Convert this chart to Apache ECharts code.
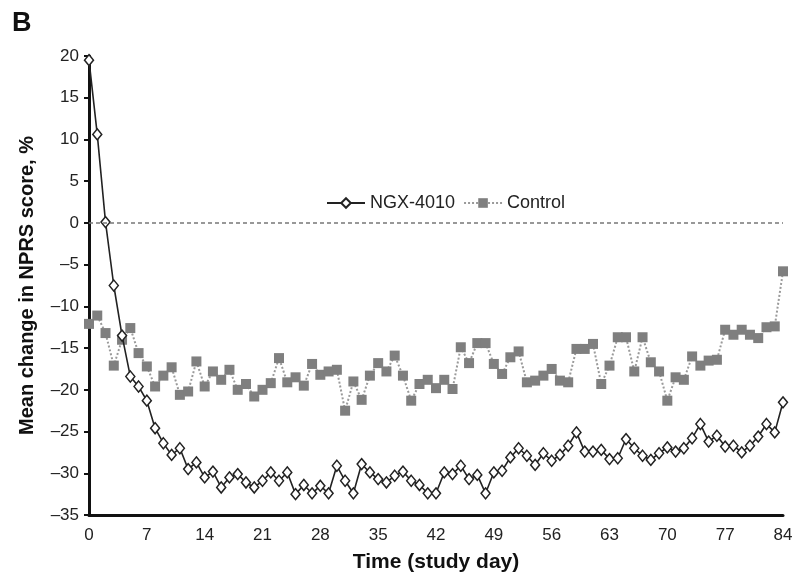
<!DOCTYPE html>
<html>
<head>
<meta charset="utf-8">
<script src="https://cdn.jsdelivr.net/npm/echarts@6/dist/echarts.min.js"></script>
<style>
  html, body { margin: 0; padding: 0; background: #fff; }
  #chart { width: 796px; height: 580px; }
</style>
</head>
<body>
<div id="chart"></div>
<script>
// study days 0..84
const days = Array.from({ length: 85 }, (_, i) => i);

// mean change in NPRS score, %
const ngxValues = [
  19.5, 10.6, 0.1, -7.5, -13.5, -18.4, -19.6, -21.3, -24.6, -26.4,
  -27.8, -27.0, -29.5, -28.7, -30.5, -29.8, -31.7, -30.5, -30.1, -31.1,
  -31.7, -30.9, -29.9, -30.9, -29.9, -32.5, -31.4, -32.4, -31.5, -32.4,
  -29.1, -30.9, -32.4, -28.9, -29.9, -30.7, -31.1, -30.3, -29.8, -30.9,
  -31.4, -32.4, -32.4, -29.9, -30.1, -29.1, -30.7, -30.2, -32.4, -29.9,
  -29.7, -28.1, -27.0, -27.9, -29.0, -27.6, -28.5, -27.8, -26.7, -25.1,
  -27.4, -27.4, -27.2, -28.3, -28.2, -25.9, -27.0, -27.9, -28.4, -27.6,
  -26.9, -27.4, -27.0, -25.8, -24.1, -26.2, -25.5, -26.8, -26.7, -27.5,
  -26.7, -25.6, -24.1, -25.1, -21.5
];
const controlValues = [
  -12.1, -11.1, -13.2, -17.1, -14.0, -12.6, -15.6, -17.2, -19.6, -18.3,
  -17.3, -20.6, -20.2, -16.6, -19.6, -17.8, -18.8, -17.6, -20.0, -19.3,
  -20.8, -20.0, -19.2, -16.2, -19.1, -18.5, -19.5, -16.9, -18.2, -17.8,
  -17.6, -22.5, -19.0, -21.2, -18.3, -16.8, -17.8, -15.9, -18.3, -21.3,
  -19.3, -18.8, -19.8, -18.8, -19.9, -14.9, -16.8, -14.4, -14.4, -16.9,
  -18.1, -16.1, -15.4, -19.1, -18.9, -18.3, -17.5, -18.9, -19.1, -15.1,
  -15.1, -14.5, -19.3, -17.1, -13.7, -13.7, -17.8, -13.7, -16.7, -17.8,
  -21.3, -18.5, -18.8, -16.0, -17.1, -16.5, -16.4, -12.8, -13.4, -12.8,
  -13.4, -13.8, -12.5, -12.4, -5.8
];

const xTicks = { min: 0, max: 84, interval: 7 };
const yTicks = { min: -35, max: 20, interval: 5 };

const chart = echarts.init(document.getElementById("chart"));

const font = "Liberation Sans, Arial, sans-serif";

const option = {
  animation: false,
  backgroundColor: "#fff",
  graphic: [
    {
      type: "text",
      left: 12,
      top: 10,
      style: { text: "B", font: "bold 27px Liberation Sans, Arial, sans-serif", fill: "#111" },
    },
  ],
  grid: { left: 89, right: 13, top: 56, bottom: 65 },
  legend: {
    left: 321,
    top: 189,
    itemWidth: 38,
    itemHeight: 12,
    itemGap: 8,
    selectedMode: false,
    textStyle: { fontSize: 18, color: "#222", fontFamily: font },
    data: ["NGX-4010", "Control"],
  },
  xAxis: {
    type: "value",
    min: xTicks.min,
    max: xTicks.max,
    interval: xTicks.interval,
    name: "Time (study day)",
    nameLocation: "middle",
    nameGap: 37,
    nameTextStyle: { fontSize: 21, fontWeight: "bold", color: "#111", fontFamily: font },
    axisLine: { onZero: false, lineStyle: { color: "#111", width: 3 } },
    axisTick: { show: false },
    axisLabel: { fontSize: 17, color: "#222", margin: 12, fontFamily: font },
    splitLine: { show: false },
  },
  yAxis: {
    type: "value",
    min: yTicks.min,
    max: yTicks.max,
    interval: yTicks.interval,
    name: "Mean change in NPRS score, %",
    nameLocation: "middle",
    nameGap: 52,
    nameTextStyle: { fontSize: 20, fontWeight: "bold", color: "#111", fontFamily: font },
    axisLine: { show: true, onZero: false, lineStyle: { color: "#111", width: 3 } },
    axisTick: { show: true, length: 5, lineStyle: { color: "#111", width: 2 } },
    axisLabel: {
      fontSize: 17,
      color: "#222",
      margin: 10,
      fontFamily: font,
      formatter: (v) => (v < 0 ? "\u2013" + Math.abs(v) : String(v)),
    },
    splitLine: { show: false },
  },
  series: [
    {
      name: "Control",
      type: "line",
      data: days.map((d, i) => [d, controlValues[i]]),
      symbol: "rect",
      symbolSize: 10,
      itemStyle: { color: "#7f7f7f" },
      lineStyle: { color: "#9a9a9a", width: 2, type: "dotted" },
      z: 2,
      markLine: {
        silent: true,
        symbol: "none",
        label: { show: false },
        emphasis: { disabled: true },
        lineStyle: { color: "#777", width: 1.5, type: [4, 3] },
        data: [{ yAxis: 0 }],
      },
    },
    {
      name: "NGX-4010",
      type: "line",
      data: days.map((d, i) => [d, ngxValues[i]]),
      symbol: "diamond",
      symbolSize: [9, 11],
      itemStyle: { color: "#fff", borderColor: "#222", borderWidth: 1.5 },
      lineStyle: { color: "#222", width: 1.6 },
      z: 3,
    },
  ],
};

chart.setOption(option);
</script>
</body>
</html>
